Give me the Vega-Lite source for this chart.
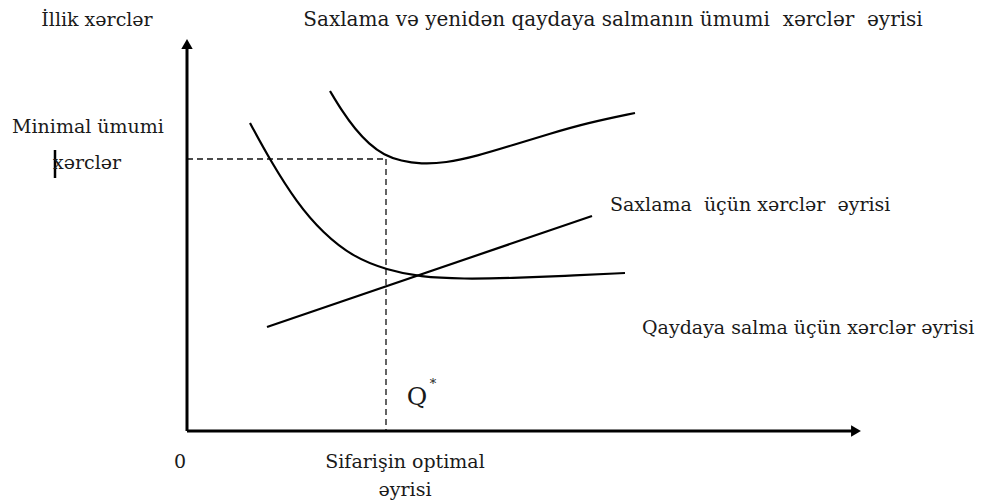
{
  "$schema": "https://vega.github.io/schema/vega-lite/v6.json",
  "width": 981,
  "height": 504,
  "autosize": {"type": "fit", "contains": "padding"},
  "padding": 0,
  "background": "white",
  "config": {"view": {"stroke": null}},
  "datasets": {
    "axes": [
      {"name": "y-axis", "u": 0, "v": 0, "u2": 0, "v2": 382},
      {"name": "x-axis", "u": 0, "v": 0, "u2": 665, "v2": 0}
    ],
    "arrows": [
      {"name": "y-arrow", "u": 0, "v": 387, "shape": "triangle-up"},
      {"name": "x-arrow", "u": 669, "v": 0, "shape": "triangle-right"}
    ],
    "guides": [
      {"name": "min-cost", "u": 0, "v": 272, "u2": 199, "v2": 272},
      {"name": "q-star", "u": 199, "v": 272, "u2": 199, "v2": 0}
    ],
    "cursor": [
      {"u": -132, "v": 281, "u2": -132, "v2": 253}
    ],
    "curves": [
      {"curve": "total", "u": 143, "v": 340},
      {"curve": "total", "u": 155, "v": 320},
      {"curve": "total", "u": 168, "v": 302},
      {"curve": "total", "u": 182, "v": 287},
      {"curve": "total", "u": 197, "v": 276},
      {"curve": "total", "u": 214, "v": 270},
      {"curve": "total", "u": 234, "v": 267},
      {"curve": "total", "u": 258, "v": 268},
      {"curve": "total", "u": 290, "v": 275},
      {"curve": "total", "u": 326, "v": 286},
      {"curve": "total", "u": 362, "v": 297},
      {"curve": "total", "u": 400, "v": 308},
      {"curve": "total", "u": 448, "v": 318},
      {"curve": "ordering", "u": 63, "v": 308},
      {"curve": "ordering", "u": 83, "v": 271},
      {"curve": "ordering", "u": 110, "v": 228},
      {"curve": "ordering", "u": 136, "v": 198},
      {"curve": "ordering", "u": 166, "v": 174},
      {"curve": "ordering", "u": 200, "v": 161},
      {"curve": "ordering", "u": 233, "v": 154},
      {"curve": "ordering", "u": 276, "v": 152},
      {"curve": "ordering", "u": 326, "v": 153},
      {"curve": "ordering", "u": 376, "v": 155},
      {"curve": "ordering", "u": 438, "v": 158},
      {"curve": "holding", "u": 80, "v": 104},
      {"curve": "holding", "u": 405, "v": 215}
    ],
    "centerLabels": [
      {"u": -90, "v": 411, "text": "İllik xərclər"},
      {"u": -99, "v": 304, "text": "Minimal ümumi"},
      {"u": -100, "v": 268, "text": "xərclər"},
      {"u": -7, "v": -31, "text": "0"},
      {"u": 218, "v": -31, "text": "Sifarişin optimal"},
      {"u": 218, "v": -59, "text": "əyrisi"}
    ],
    "titleLabel": [
      {"u": 426, "v": 411, "text": "Saxlama və yenidən qaydaya salmanın ümumi\u00a0 xərclər\u00a0 əyrisi"}
    ],
    "leftLabels": [
      {"u": 423, "v": 226, "text": "Saxlama\u00a0 üçün xərclər\u00a0 əyrisi"},
      {"u": 455, "v": 103, "text": "Qaydaya salma üçün xərclər əyrisi"}
    ],
    "qLabel": [
      {"u": 230, "v": 34, "text": "Q"}
    ],
    "starLabel": [
      {"u": 246, "v": 47, "text": "*"}
    ]
  },
  "encoding": {
    "x": {"field": "u", "type": "quantitative", "scale": {"domain": [-187, 794], "nice": false, "zero": false}, "axis": null},
    "y": {"field": "v", "type": "quantitative", "scale": {"domain": [-73, 431], "nice": false, "zero": false}, "axis": null}
  },
  "layer": [
    {
      "data": {"name": "guides"},
      "mark": {"type": "rule", "color": "#111", "strokeWidth": 1.3, "strokeDash": [6, 4]},
      "encoding": {"x2": {"field": "u2"}, "y2": {"field": "v2"}}
    },
    {
      "data": {"name": "axes"},
      "mark": {"type": "rule", "color": "#000", "strokeWidth": 3},
      "encoding": {"x2": {"field": "u2"}, "y2": {"field": "v2"}}
    },
    {
      "data": {"name": "cursor"},
      "mark": {"type": "rule", "color": "#000", "strokeWidth": 2.5},
      "encoding": {"x2": {"field": "u2"}, "y2": {"field": "v2"}}
    },
    {
      "data": {"name": "arrows"},
      "mark": {"type": "point", "filled": true, "color": "#000", "opacity": 1, "size": 130},
      "encoding": {"shape": {"field": "shape", "type": "nominal", "scale": null}}
    },
    {
      "data": {"name": "curves"},
      "mark": {"type": "line", "color": "#000", "strokeWidth": 2.2, "interpolate": "basis"},
      "encoding": {"detail": {"field": "curve"}}
    },
    {
      "data": {"name": "centerLabels"},
      "mark": {"type": "text", "font": "DejaVu Serif", "fontSize": 19, "align": "center", "baseline": "middle", "color": "#1a1a1a"},
      "encoding": {"text": {"field": "text"}}
    },
    {
      "data": {"name": "titleLabel"},
      "mark": {"type": "text", "font": "DejaVu Serif", "fontSize": 20, "align": "center", "baseline": "middle", "color": "#1a1a1a"},
      "encoding": {"text": {"field": "text"}}
    },
    {
      "data": {"name": "leftLabels"},
      "mark": {"type": "text", "font": "DejaVu Serif", "fontSize": 19, "align": "left", "baseline": "middle", "color": "#1a1a1a"},
      "encoding": {"text": {"field": "text"}}
    },
    {
      "data": {"name": "qLabel"},
      "mark": {"type": "text", "font": "DejaVu Serif", "fontSize": 25, "align": "center", "baseline": "middle", "color": "#1a1a1a"},
      "encoding": {"text": {"field": "text"}}
    },
    {
      "data": {"name": "starLabel"},
      "mark": {"type": "text", "font": "DejaVu Serif", "fontSize": 13, "align": "center", "baseline": "middle", "color": "#1a1a1a"},
      "encoding": {"text": {"field": "text"}}
    }
  ]
}
